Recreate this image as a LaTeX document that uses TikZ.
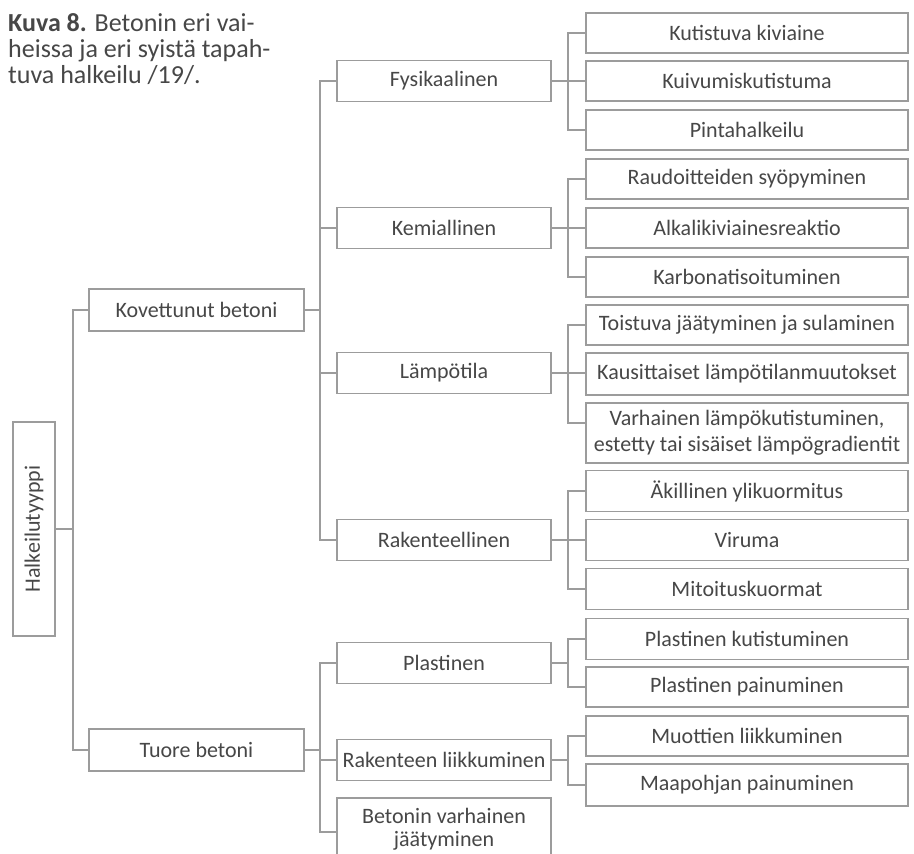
\documentclass[tikz,border=0pt]{standalone}
\usepackage{fontspec}
\setmainfont{Carlito}
\definecolor{linecol}{HTML}{9C9C9C}
\definecolor{txtcol}{HTML}{474747}
\begin{document}
\begin{tikzpicture}[x=1pt,y=-1pt,
  box/.style={draw=linecol, line width=1.1pt, text=txtcol, inner sep=0pt, align=center,
              font=\fontsize{22}{26}\selectfont},
  leaf/.style={box, minimum width=322pt, minimum height=40pt},
  mid/.style={box, minimum width=214pt, minimum height=41pt},
  lvlone/.style={box, minimum width=215pt, minimum height=42pt},
  conn/.style={draw=linecol, line width=1.1pt},
  lbl/.style={text=txtcol, inner sep=0pt, align=center, font=\fontsize{22}{23}\selectfont},
  captxt/.style={anchor=base west, inner sep=0pt, text=txtcol, font=\fontsize{26}{29}\selectfont}
]
\useasboundingbox[fill=white] (0,0) rectangle (914,854);

% caption
\node[captxt] (t1) at (8,31) {\textbf{Kuva 8.} Betonin eri vai-};
\node[captxt] (t2) at (8,57) {heissa ja eri syistä tapah-};
\node[captxt] (t3) at (8,83) {tuva halkeilu /19/.};

% root
\node[box, minimum width=42pt, minimum height=214pt] (root) at (34,529) {};
\node[lbl, rotate=90] (rootlbl) at (root.center) {Halkeilutyyppi};

% level 1
\node[lvlone] (kov) at (196.5,310) {Kovettunut betoni};
\node[lvlone] (tuo) at (196.5,750) {Tuore betoni};

% level 2
\node[mid] (fys) at (444,81) {Fysikaalinen};
\node[mid] (kem) at (444,228) {Kemiallinen};
\node[mid] (lam) at (444,373) {Lämpötila};
\node[mid] (rak) at (444,540) {Rakenteellinen};
\node[mid] (pla) at (444,663) {Plastinen};
\node[mid] (rli) at (444,760) {Rakenteen liikkuminen};
\node[mid, minimum height=68pt] (bvj) at (444,832) {};
\node[lbl] (bvjlbl) at (444,829) {Betonin varhainen\\jäätyminen};

% leaves
\node[leaf] (l1) at (747,33) {Kutistuva kiviaine};
\node[leaf] (l2) at (747,81) {Kuivumiskutistuma};
\node[leaf] (l3) at (747,130) {Pintahalkeilu};
\node[leaf] (l4) at (747,179) {Raudoitteiden syöpyminen};
\node[leaf] (l5) at (747,228) {Alkalikiviainesreaktio};
\node[leaf] (l6) at (747,277) {Karbonatisoituminen};
\node[leaf] (l7) at (747,325) {Toistuva jäätyminen ja sulaminen};
\node[leaf, minimum height=42pt] (l8) at (747,374) {Kausittaiset lämpötilanmuutokset};
\node[leaf, minimum height=60pt] (l9) at (747,433) {Varhainen lämpökutistuminen,\\estetty tai sisäiset lämpögradientit};
\node[leaf, minimum height=41pt] (l10) at (747,491) {Äkillinen ylikuormitus};
\node[leaf, minimum height=41pt] (l11) at (747,540) {Viruma};
\node[leaf, minimum height=41pt] (l12) at (747,589) {Mitoituskuormat};
\node[leaf, minimum height=41pt] (l13) at (747,639) {Plastinen kutistuminen};
\node[leaf] (l14) at (747,687) {Plastinen painuminen};
\node[leaf] (l15) at (747,736) {Muottien liikkuminen};
\node[leaf, minimum height=42pt] (l16) at (747,785) {Maapohjan painuminen};

% trunk positions
\coordinate (xa) at (73,0);
\coordinate (xb) at (320,0);
\coordinate (xc) at (568,0);

% root to level 1
\draw[conn] (root.east) -- (root.east -| xa);
\draw[conn] (kov.west) -- (kov.west -| xa) -- (tuo.west -| xa) -- (tuo.west);

% level 1 to level 2
\draw[conn] (kov.east) -- (kov.east -| xb);
\draw[conn] (fys.west) -- (fys.west -| xb) -- (rak.west -| xb) -- (rak.west);
\draw[conn] (kem.west) -- (kem.west -| xb);
\draw[conn] (lam.west) -- (lam.west -| xb);
\draw[conn] (tuo.east) -- (tuo.east -| xb);
\draw[conn] (pla.west) -- (pla.west -| xb) -- (bvj.west -| xb) -- (bvj.west);
\draw[conn] (rli.west) -- (rli.west -| xb);

% level 2 to leaves
\draw[conn] (fys.east) -- (l2.west);
\draw[conn] (l1.west) -- (l1.west -| xc) -- (l3.west -| xc) -- (l3.west);
\draw[conn] (kem.east) -- (l5.west);
\draw[conn] (l4.west) -- (l4.west -| xc) -- (l6.west -| xc) -- (l6.west);
\draw[conn] (lam.east) -- (lam.east -| xc);
\draw[conn] (lam.east -| xc) -- (l8.west |- lam.east);
\draw[conn] (l7.west) -- (l7.west -| xc) -- ([yshift=10pt]l9.west -| xc) -- ([yshift=10pt]l9.west);
\draw[conn] (rak.east) -- (l11.west);
\draw[conn] (l10.west) -- (l10.west -| xc) -- (l12.west -| xc) -- (l12.west);
\draw[conn] (pla.east) -- (pla.east -| xc);
\draw[conn] (l13.west) -- (l13.west -| xc) -- (l14.west -| xc) -- (l14.west);
\draw[conn] (rli.east) -- (rli.east -| xc);
\draw[conn] (l15.west) -- (l15.west -| xc) -- (l16.west -| xc) -- (l16.west);
\end{tikzpicture}
\end{document}
